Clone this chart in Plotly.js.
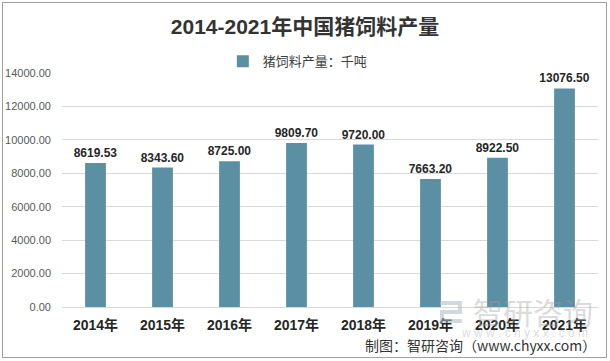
<!DOCTYPE html>
<html>
<head>
<meta charset="utf-8">
<script src="https://cdn.plot.ly/plotly-3.0.1.min.js"></script>
<style>
html,body{margin:0;padding:0;background:#fff;}
#chart{width:610px;height:361px;}
#frame{position:absolute;left:2px;top:2px;width:603px;height:354px;border:1px solid #a0a0a0;pointer-events:none;}
</style>
</head>
<body>
<div id="chart"></div>
<div id="frame"></div>
<script>
const categories = ["2014年","2015年","2016年","2017年","2018年","2019年","2020年","2021年"];
const values = [8619.53, 8343.60, 8725.00, 9809.70, 9720.00, 7663.20, 8922.50, 13076.50];
const seriesName = "猪饲料产量：千吨";
const yTicks = [0, 2000, 4000, 6000, 8000, 10000, 12000, 14000];

const trace = {
  type: "bar",
  x: categories,
  y: values,
  name: seriesName,
  marker: {color: "#5b8fa3"},
  text: values.map(v => v.toFixed(2)),
  textposition: "outside",
  constraintext: "none",
  textfont: {family: "Liberation Sans, Noto Sans CJK SC, sans-serif", size: 12, color: "#262626", weight: "bold"},
  cliponaxis: false,
  showlegend: true
};

const layout = {
  width: 610, height: 361,
  margin: {l: 62, r: 12, t: 73, b: 54},
  paper_bgcolor: "#ffffff",
  plot_bgcolor: "#ffffff",
  bargap: 0.69,
  title: {
    text: "<b>2014-2021年中国猪饲料产量</b>",
    font: {family: "Liberation Sans, Noto Sans CJK SC, sans-serif", size: 21, color: "#333333"},
    xref: "container", x: 0.5, xanchor: "center", y: 0.925, yanchor: "middle"
  },
  showlegend: true,
  legend: {
    orientation: "h", x: 0.44, xanchor: "center", y: 1.05, yanchor: "middle",
    font: {family: "Noto Sans CJK SC, sans-serif", size: 13, color: "#404040"},
    itemwidth: 30
  },
  xaxis: {
    type: "category",
    tickfont: {family: "Liberation Sans, Noto Sans CJK SC, sans-serif", size: 14, color: "#262626", weight: "bold"},
    showgrid: false, zeroline: false, showline: false, ticks: "",
    ticklabelstandoff: 8
  },
  yaxis: {
    range: [0, 14000],
    tickvals: yTicks,
    ticktext: yTicks.map(v => v.toFixed(2)),
    tickfont: {family: "Liberation Sans, sans-serif", size: 11, color: "#595959"},
    gridcolor: "#d9d9d9", gridwidth: 1,
    zeroline: true, zerolinecolor: "#d9d9d9", zerolinewidth: 1,
    showline: false, ticks: "", ticklabelstandoff: 10
  },
  shapes: [
    {type: "path", xref: "paper", yref: "paper",
     path: "M0.705,0.0171 L0.7425,0.0171 L0.7425,-0.0214 L0.709,-0.0214 L0.709,-0.0598 L0.746,-0.0598",
     line: {color: "rgba(170,185,195,0.55)", width: 4}, layer: "above"}
  ],
  annotations: [
    {text: "智研咨询", xref: "paper", yref: "paper", x: 0.995, y: -0.015, xanchor: "right", yanchor: "middle",
     showarrow: false, font: {family: "Noto Sans CJK SC, sans-serif", size: 30, color: "rgba(160,160,160,0.4)"}},
    {text: "w w w . c h y x x . c o m", xref: "paper", yref: "paper", x: 0.985, y: -0.11, xanchor: "right", yanchor: "middle",
     showarrow: false, font: {family: "Liberation Sans, sans-serif", size: 12, color: "rgba(160,160,160,0.4)"}},
    {text: "制图：智研咨询（www.chyxx.com）", xref: "paper", yref: "paper", x: 1.0, y: -0.162, xanchor: "right", yanchor: "middle",
     showarrow: false, font: {family: "Noto Sans CJK SC, sans-serif", size: 14, color: "#333333"}}
  ]
};

Plotly.newPlot("chart", [trace], layout, {displayModeBar: false, staticPlot: true});
</script>
</body>
</html>
